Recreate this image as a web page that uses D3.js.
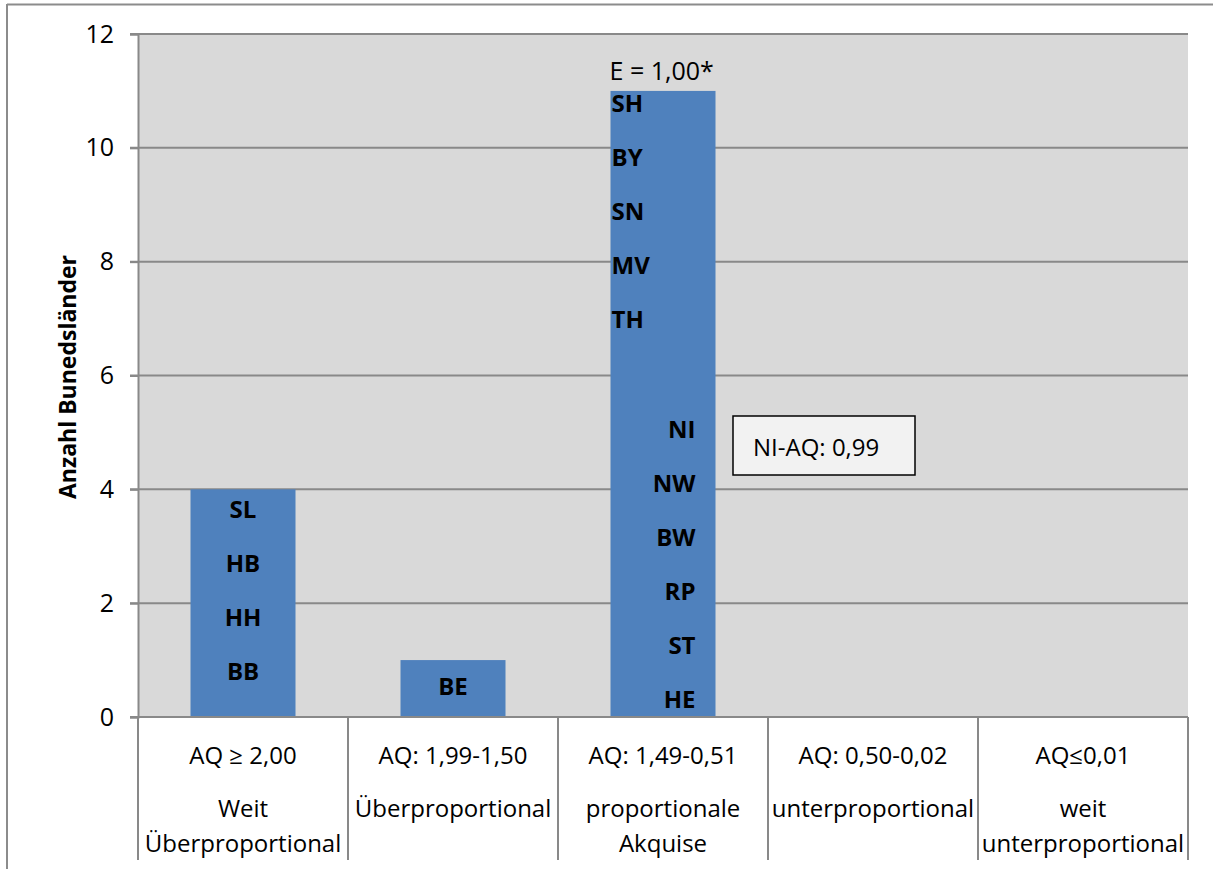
<!DOCTYPE html>
<html>
<head>
<meta charset="utf-8">
<script src="https://cdn.jsdelivr.net/npm/d3@7"></script>
<style>
  html, body { margin: 0; padding: 0; background: #fff; }
  svg { display: block; font-family: "Open Sans", "Noto Sans", sans-serif; }
</style>
</head>
<body>
<svg id="chart" width="1213" height="869"></svg>
<script>
// Akquise-Quotient classes (AQ) and the number of federal states in each
const categories = ["AQ ≥ 2,00", "AQ: 1,99-1,50", "AQ: 1,49-0,51", "AQ: 0,50-0,02", "AQ≤0,01"];
const categorySubLabels = [
  ["Weit", "Überproportional"],
  ["Überproportional"],
  ["proportionale", "Akquise"],
  ["unterproportional"],
  ["weit", "unterproportional"]
];
const counts = [4, 1, 11, 0, 0];
const yTicks = [0, 2, 4, 6, 8, 10, 12];

// State abbreviations written inside the bars
const statesWeit = ["SL", "HB", "HH", "BB"];
const statesUeber = ["BE"];
const statesPropTop = ["SH", "BY", "SN", "MV", "TH"];
const statesPropBottom = ["NI", "NW", "BW", "RP", "ST", "HE"];
const expectedLabel = "E = 1,00*";
const noteLabel = "NI-AQ: 0,99";
const yTitle = "Anzahl Bunedsländer";

const svg = d3.select("#chart");
const margin = { left: 138, right: 1188, top: 34, bottom: 717 };

const x = d3.scaleBand().domain(categories).range([margin.left, margin.right]).paddingInner(0).paddingOuter(0);
const y = d3.scaleLinear().domain([0, 12]).range([margin.bottom, margin.top]);
const barW = x.bandwidth() * 0.5;

// Outer chart frame (top and left edges)
svg.append("line").attr("x1", 7).attr("x2", 1213).attr("y1", 4.5).attr("y2", 4.5)
  .attr("stroke", "#8c8c8c").attr("stroke-width", 2);
svg.append("line").attr("x1", 7).attr("x2", 7).attr("y1", 4).attr("y2", 869)
  .attr("stroke", "#8c8c8c").attr("stroke-width", 2);

// Plot area
svg.append("rect").attr("x", margin.left).attr("y", margin.top)
  .attr("width", margin.right - margin.left).attr("height", margin.bottom - margin.top)
  .attr("fill", "#d9d9d9");

// Horizontal gridlines
svg.append("g").selectAll("line").data(yTicks).join("line")
  .attr("x1", margin.left - 8).attr("x2", margin.right)
  .attr("y1", d => y(d)).attr("y2", d => y(d))
  .attr("stroke", "#898989").attr("stroke-width", 2);

// Y axis
const yAxis = svg.append("g").attr("transform", `translate(${margin.left},0)`)
  .call(d3.axisLeft(y).tickValues(yTicks).tickSize(8).tickPadding(16).tickFormat(d3.format("d")));
yAxis.select(".domain").attr("stroke", "#898989").attr("stroke-width", 2);
yAxis.selectAll(".tick line").attr("stroke", "#898989").attr("stroke-width", 2);
yAxis.selectAll(".tick text").attr("font-size", 25).attr("fill", "#000")
  .attr("font-family", "'Open Sans', sans-serif");

// Y axis title
svg.append("text").attr("transform", `translate(76,377) rotate(-90)`)
  .attr("text-anchor", "middle").attr("font-size", 23).attr("font-weight", "bold")
  .text(yTitle);

// Bars
svg.append("g").selectAll("rect").data(counts).join("rect")
  .attr("x", (d, i) => x(categories[i]) + (x.bandwidth() - barW) / 2)
  .attr("y", d => y(d)).attr("width", barW).attr("height", d => y(0) - y(d))
  .attr("fill", "#4f81bd");

// Category table below the axis
const catG = svg.append("g");
catG.append("line").attr("x1", margin.left).attr("x2", margin.right)
  .attr("y1", margin.bottom).attr("y2", margin.bottom).attr("stroke", "#898989").attr("stroke-width", 2);
const edges = categories.map(c => x(c)).concat([x(categories[categories.length - 1]) + x.bandwidth()]);
catG.selectAll("line.sep").data(edges).join("line").attr("class", "sep")
  .attr("x1", d => d).attr("x2", d => d).attr("y1", margin.bottom).attr("y2", 860)
  .attr("stroke", "#898989").attr("stroke-width", 2);
categories.forEach((c, i) => {
  const cx = x(c) + x.bandwidth() / 2;
  catG.append("text").attr("x", cx).attr("y", 764).attr("text-anchor", "middle")
    .attr("font-size", 24).text(c);
  categorySubLabels[i].forEach((s, j) => {
    catG.append("text").attr("x", cx).attr("y", 817 + j * 35).attr("text-anchor", "middle")
      .attr("font-size", 24).text(s);
  });
});

// State labels inside bars
const lblG = svg.append("g").attr("font-size", 24).attr("font-weight", "bold").attr("fill", "#000");
const step = 54;
const c0 = x(categories[0]) + x.bandwidth() / 2;
statesWeit.forEach((s, i) => {
  lblG.append("text").attr("x", c0).attr("y", y(counts[0]) + 29 + i * step)
    .attr("text-anchor", "middle").text(s);
});
const c1 = x(categories[1]) + x.bandwidth() / 2;
statesUeber.forEach((s, i) => {
  lblG.append("text").attr("x", c1).attr("y", y(counts[1]) + 35 + i * step)
    .attr("text-anchor", "middle").text(s);
});
const b2 = x(categories[2]) + (x.bandwidth() - barW) / 2;
statesPropTop.forEach((s, i) => {
  lblG.append("text").attr("x", b2 + 1).attr("y", y(counts[2]) + 21 + i * step)
    .attr("text-anchor", "start").text(s);
});
statesPropBottom.forEach((s, i) => {
  lblG.append("text").attr("x", b2 + 85).attr("y", y(0) - 9 - (statesPropBottom.length - 1 - i) * step)
    .attr("text-anchor", "end").text(s);
});

// Expected value above the proportional bar
svg.append("text").attr("x", b2 - 1).attr("y", y(counts[2]) - 11)
  .attr("font-size", 25).text(expectedLabel);

// Note box
const noteG = svg.append("g");
noteG.append("rect").attr("x", 733).attr("y", 416).attr("width", 182).attr("height", 59)
  .attr("fill", "#f2f2f2").attr("stroke", "#000").attr("stroke-width", 1.5);
noteG.append("text").attr("x", 753).attr("y", 456).attr("font-size", 24).text(noteLabel);
</script>
</body>
</html>
